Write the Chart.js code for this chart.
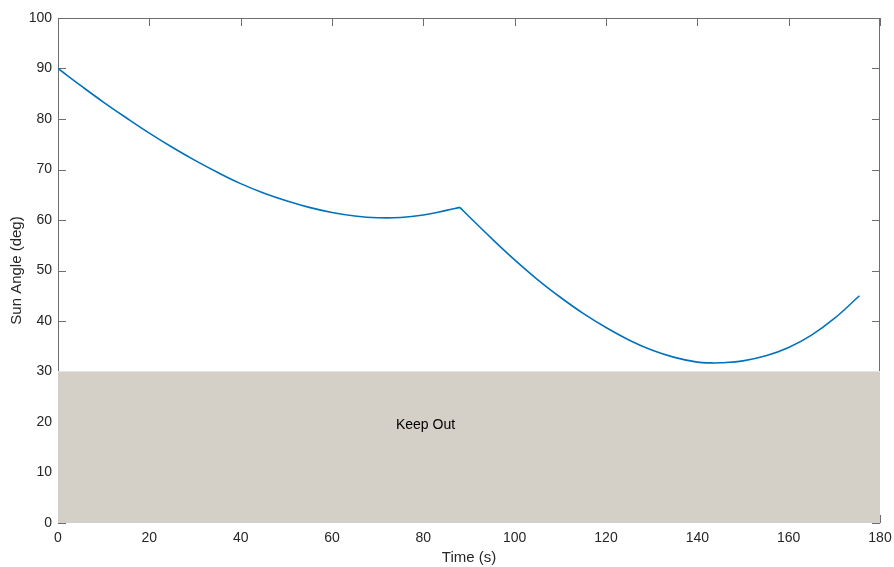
<!DOCTYPE html>
<html>
<head>
<meta charset="utf-8">
<script src="https://cdn.jsdelivr.net/npm/chart.js@4/dist/chart.umd.min.js"></script>
<style>
  body { margin: 0; background: #fff; }
</style>
</head>
<body>
<canvas id="sunChart" width="894" height="567"></canvas>
<script>
// Sun angle over time
const timeSec = [0, 5, 10, 15, 20, 25, 30, 35, 40, 45, 50, 55, 60, 65, 70, 75, 80, 85, 88,
                 90, 95, 100, 105, 110, 115, 120, 125, 130, 135, 140, 143, 145, 150, 155, 160, 165, 170, 175.5];
const sunAngle = [90, 86.6, 83.3, 80.2, 77.2, 74.4, 71.8, 69.4, 67.2, 65.35, 63.8, 62.5, 61.5, 60.8, 60.45, 60.5, 61.0, 61.9, 62.5,
                  60.7, 56.3, 52.1, 48.2, 44.7, 41.5, 38.7, 36.25, 34.25, 32.8, 31.85, 31.7, 31.72, 32.1, 33.1, 34.75, 37.2, 40.5, 45.0];
// index of the sharp corner at t = 88 s
const kinkIndex = 18;

// keep-out zone: time span and angle limit
const keepOutTime = [0, 180];
const keepOutLimit = 30;
const keepOutLabel = 'Keep Out';

const xTicks = [0, 20, 40, 60, 80, 100, 120, 140, 160, 180];
const yTicks = [0, 10, 20, 30, 40, 50, 60, 70, 80, 90, 100];

const FONT = '"Liberation Sans", Arial, Helvetica, sans-serif';
const AXIS_COLOR = '#262626';

function points(from, to) {
    return timeSec.slice(from, to).map((t, i) => ({ x: t, y: sunAngle[from + i] }));
}

const boxAndTicks = {
    id: 'boxAndTicks',
    beforeDatasetsDraw(chart) {
        const { ctx, chartArea: a, scales: { x, y } } = chart;
        ctx.save();
        ctx.strokeStyle = '#6e6e6e';
        ctx.lineWidth = 1;
        ctx.beginPath();
        ctx.rect(Math.round(a.left) + 0.5, Math.round(a.top) + 0.5,
                 Math.round(a.width) - 1, Math.round(a.height) - 1);
        const tl = 8;
        x.ticks.forEach(t => {
            const px = Math.round(x.getPixelForValue(t.value)) + 0.5;
            ctx.moveTo(px, a.bottom); ctx.lineTo(px, a.bottom - tl);
            ctx.moveTo(px, a.top); ctx.lineTo(px, a.top + tl);
        });
        y.ticks.forEach(t => {
            const py = Math.round(y.getPixelForValue(t.value)) + 0.5;
            ctx.moveTo(a.left, py); ctx.lineTo(a.left + tl, py);
            ctx.moveTo(a.right, py); ctx.lineTo(a.right - tl, py);
        });
        ctx.stroke();
        ctx.restore();
    },
    afterDatasetsDraw(chart) {
        const { ctx, scales: { x, y } } = chart;
        ctx.save();
        ctx.fillStyle = '#000';
        ctx.font = '14px ' + FONT;
        ctx.textAlign = 'left';
        ctx.textBaseline = 'middle';
        ctx.fillText(keepOutLabel, x.getPixelForValue(74), y.getPixelForValue(19.3));
        ctx.restore();
    }
};

const lineStyle = {
    borderColor: '#0072BD',
    borderWidth: 1.6,
    pointRadius: 0,
    tension: 0.4,
    fill: false
};

const canvas = document.getElementById('sunChart');
const ctx = canvas.getContext('2d');

new Chart(ctx, {
    type: 'line',
    data: {
        datasets: [
            Object.assign({ label: 'Sun Angle', data: points(0, kinkIndex + 1) }, lineStyle),
            Object.assign({ label: 'Sun Angle ', data: points(kinkIndex, timeSec.length) }, lineStyle),
            {
                label: keepOutLabel,
                data: keepOutTime.map(t => ({ x: t, y: keepOutLimit })),
                borderColor: '#e6e4e0',
                borderWidth: 1,
                backgroundColor: '#d4d0c8',
                pointRadius: 0,
                fill: 'origin'
            }
        ]
    },
    options: {
        responsive: false,
        animation: false,
        layout: { padding: { top: 18, right: 14, left: 0, bottom: 0 } },
        plugins: {
            legend: { display: false },
            tooltip: { enabled: false }
        },
        scales: {
            x: {
                type: 'linear',
                min: 0,
                max: 180,
                afterBuildTicks: s => { s.ticks = xTicks.map(v => ({ value: v })); },
                afterFit: s => { s.height = 44; s.paddingLeft = 0; s.paddingRight = 0; },
                grid: { display: false, drawTicks: false },
                border: { display: false },
                ticks: { color: AXIS_COLOR, padding: 7, maxRotation: 0, font: { family: FONT, size: 14 } },
                title: { display: true, text: 'Time (s)', color: AXIS_COLOR, padding: { top: 0, bottom: 0 },
                         font: { family: FONT, size: 15 } }
            },
            y: {
                min: 0,
                max: 100,
                afterBuildTicks: s => { s.ticks = yTicks.map(v => ({ value: v })); },
                afterFit: s => { s.width = 58; s.paddingTop = 0; s.paddingBottom = 0; },
                grid: { display: false, drawTicks: false },
                border: { display: false },
                ticks: { color: AXIS_COLOR, padding: 6, font: { family: FONT, size: 14 } },
                title: { display: true, text: 'Sun Angle (deg)', color: AXIS_COLOR, padding: { top: 8, bottom: 0 },
                         font: { family: FONT, size: 15 } }
            }
        }
    },
    plugins: [boxAndTicks]
});
</script>
</body>
</html>
